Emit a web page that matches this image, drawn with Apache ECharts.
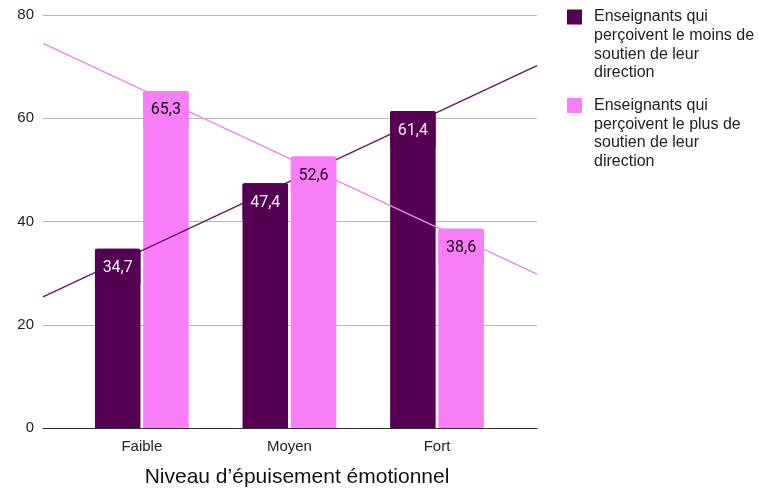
<!DOCTYPE html>
<html>
<head>
<meta charset="utf-8">
<script src="https://cdn.jsdelivr.net/npm/echarts@6/dist/echarts.min.js"></script>
<style>
html,body{margin:0;padding:0;background:#fff;}
#main{width:759px;height:488px;}
</style>
</head>
<body>
<div id="main"></div>
<script>
// ---- data ----
const categories = ['Faible', 'Moyen', 'Fort'];
const catPos = [1, 2, 3];
const seriesNames = [
  'Enseignants qui\nperçoivent le moins de\nsoutien de leur\ndirection',
  'Enseignants qui\nperçoivent le plus de\nsoutien de leur\ndirection'
];
const moinsSoutien = [34.7, 47.4, 61.4];
const plusSoutien = [65.3, 52.6, 38.6];
// trend lines at the plot's left and right edges
const trendX = [0.3306, 3.6775];
const trendMoins = [25.4, 70.2];
const trendPlus = [74.5, 29.8];
const yTicks = [0, 20, 40, 60, 80];
const axisTitle = 'Niveau d\u2019épuisement émotionnel';

// ---- styling ----
const DARK = '#550052';
const PINK = '#f77ef7';
const sans = '"Liberation Sans", Arial, sans-serif';
const pair = (xs, ys) => xs.map((x, i) => [x, ys[i]]);
const fmt = v => v.toFixed(1).replace('.', ',');
const legendIcon = 'path://M0,0L22,0M0,2H15V17H0ZM0,75L22,75';

const xBase = {
  type: 'value',
  min: trendX[0],
  max: trendX[1],
  splitLine: { show: false },
  axisTick: { show: false }
};

const barCommon = {
  type: 'bar',
  barWidth: 45.5,
  barGap: '6%'
};

const labelBase = {
  show: true,
  position: 'insideTop',
  distance: 0,
  width: 45.5,
  align: 'center',
  padding: [11, 0, 8, 0],
  lineHeight: 17,
  fontSize: 16,
  fontFamily: 'Roboto, sans-serif',
  borderRadius: [2, 2, 0, 0],
  formatter: p => fmt(p.value[1])
};

const chart = echarts.init(document.getElementById('main'), null, { renderer: 'canvas' });
chart.setOption({
  animation: false,
  backgroundColor: '#fff',
  grid: { left: 43, right: 222, top: 15, bottom: 60, containLabel: false, outerBoundsMode: 'none' },
  legend: {
    data: seriesNames,
    orient: 'vertical',
    left: 567,
    top: 7.5,
    padding: 0,
    itemWidth: 22,
    itemHeight: 75,
    itemGap: 13.5,
    icon: legendIcon,
    selectedMode: false,
    itemStyle: { borderWidth: 0 },
    textStyle: { fontSize: 16, lineHeight: 18.7, color: '#222', fontFamily: sans }
  },
  xAxis: [
    Object.assign({}, xBase, {
      axisLine: { show: true, lineStyle: { color: '#333', width: 1 } },
      axisLabel: {
        customValues: catPos,
        formatter: v => categories[catPos.indexOf(Math.round(v))] || '',
        fontSize: 15,
        color: '#222',
        fontFamily: sans,
        margin: 11
      },
      name: axisTitle,
      nameLocation: 'middle',
      nameGap: 39,
      nameTextStyle: { fontSize: 21, color: '#111', fontFamily: sans, padding: [0, 0, 0, 14] }
    }),
    Object.assign({}, xBase, { show: false })
  ],
  yAxis: {
    type: 'value',
    min: yTicks[0],
    max: yTicks[yTicks.length - 1],
    interval: yTicks[1] - yTicks[0],
    axisLine: { show: false },
    axisTick: { show: false },
    splitLine: { lineStyle: { color: '#b7b7b7', width: 1 } },
    axisLabel: { fontSize: 15, color: '#222', fontFamily: sans, margin: 9 }
  },
  series: [
    Object.assign({}, barCommon, {
      name: seriesNames[0],
      xAxisIndex: 0,
      z: 2,
      itemStyle: { color: DARK, borderRadius: [2, 2, 0, 0] },
      data: pair(catPos, moinsSoutien)
    }),
    Object.assign({}, barCommon, {
      name: seriesNames[1],
      xAxisIndex: 0,
      z: 2,
      itemStyle: { color: PINK, borderRadius: [2, 2, 0, 0] },
      data: pair(catPos, plusSoutien)
    }),
    {
      name: 'trend-moins',
      type: 'line',
      xAxisIndex: 0,
      z: 3,
      silent: true,
      symbol: 'none',
      lineStyle: { color: '#6a1568', width: 1.5 },
      data: pair(trendX, trendMoins)
    },
    {
      name: 'trend-plus',
      type: 'line',
      xAxisIndex: 0,
      z: 3,
      silent: true,
      symbol: 'none',
      lineStyle: { color: '#ee86ee', width: 1.5 },
      data: pair(trendX, trendPlus)
    },
    Object.assign({}, barCommon, {
      name: 'labels-moins',
      xAxisIndex: 1,
      z: 4,
      silent: true,
      itemStyle: { color: 'rgba(0,0,0,0)' },
      label: Object.assign({}, labelBase, { color: '#f2f2f2', backgroundColor: DARK }),
      data: pair(catPos, moinsSoutien)
    }),
    Object.assign({}, barCommon, {
      name: 'labels-plus',
      xAxisIndex: 1,
      z: 4,
      silent: true,
      itemStyle: { color: 'rgba(0,0,0,0)' },
      label: Object.assign({}, labelBase, { color: '#111', backgroundColor: PINK }),
      data: pair(catPos, plusSoutien)
    })
  ]
});
</script>
</body>
</html>
